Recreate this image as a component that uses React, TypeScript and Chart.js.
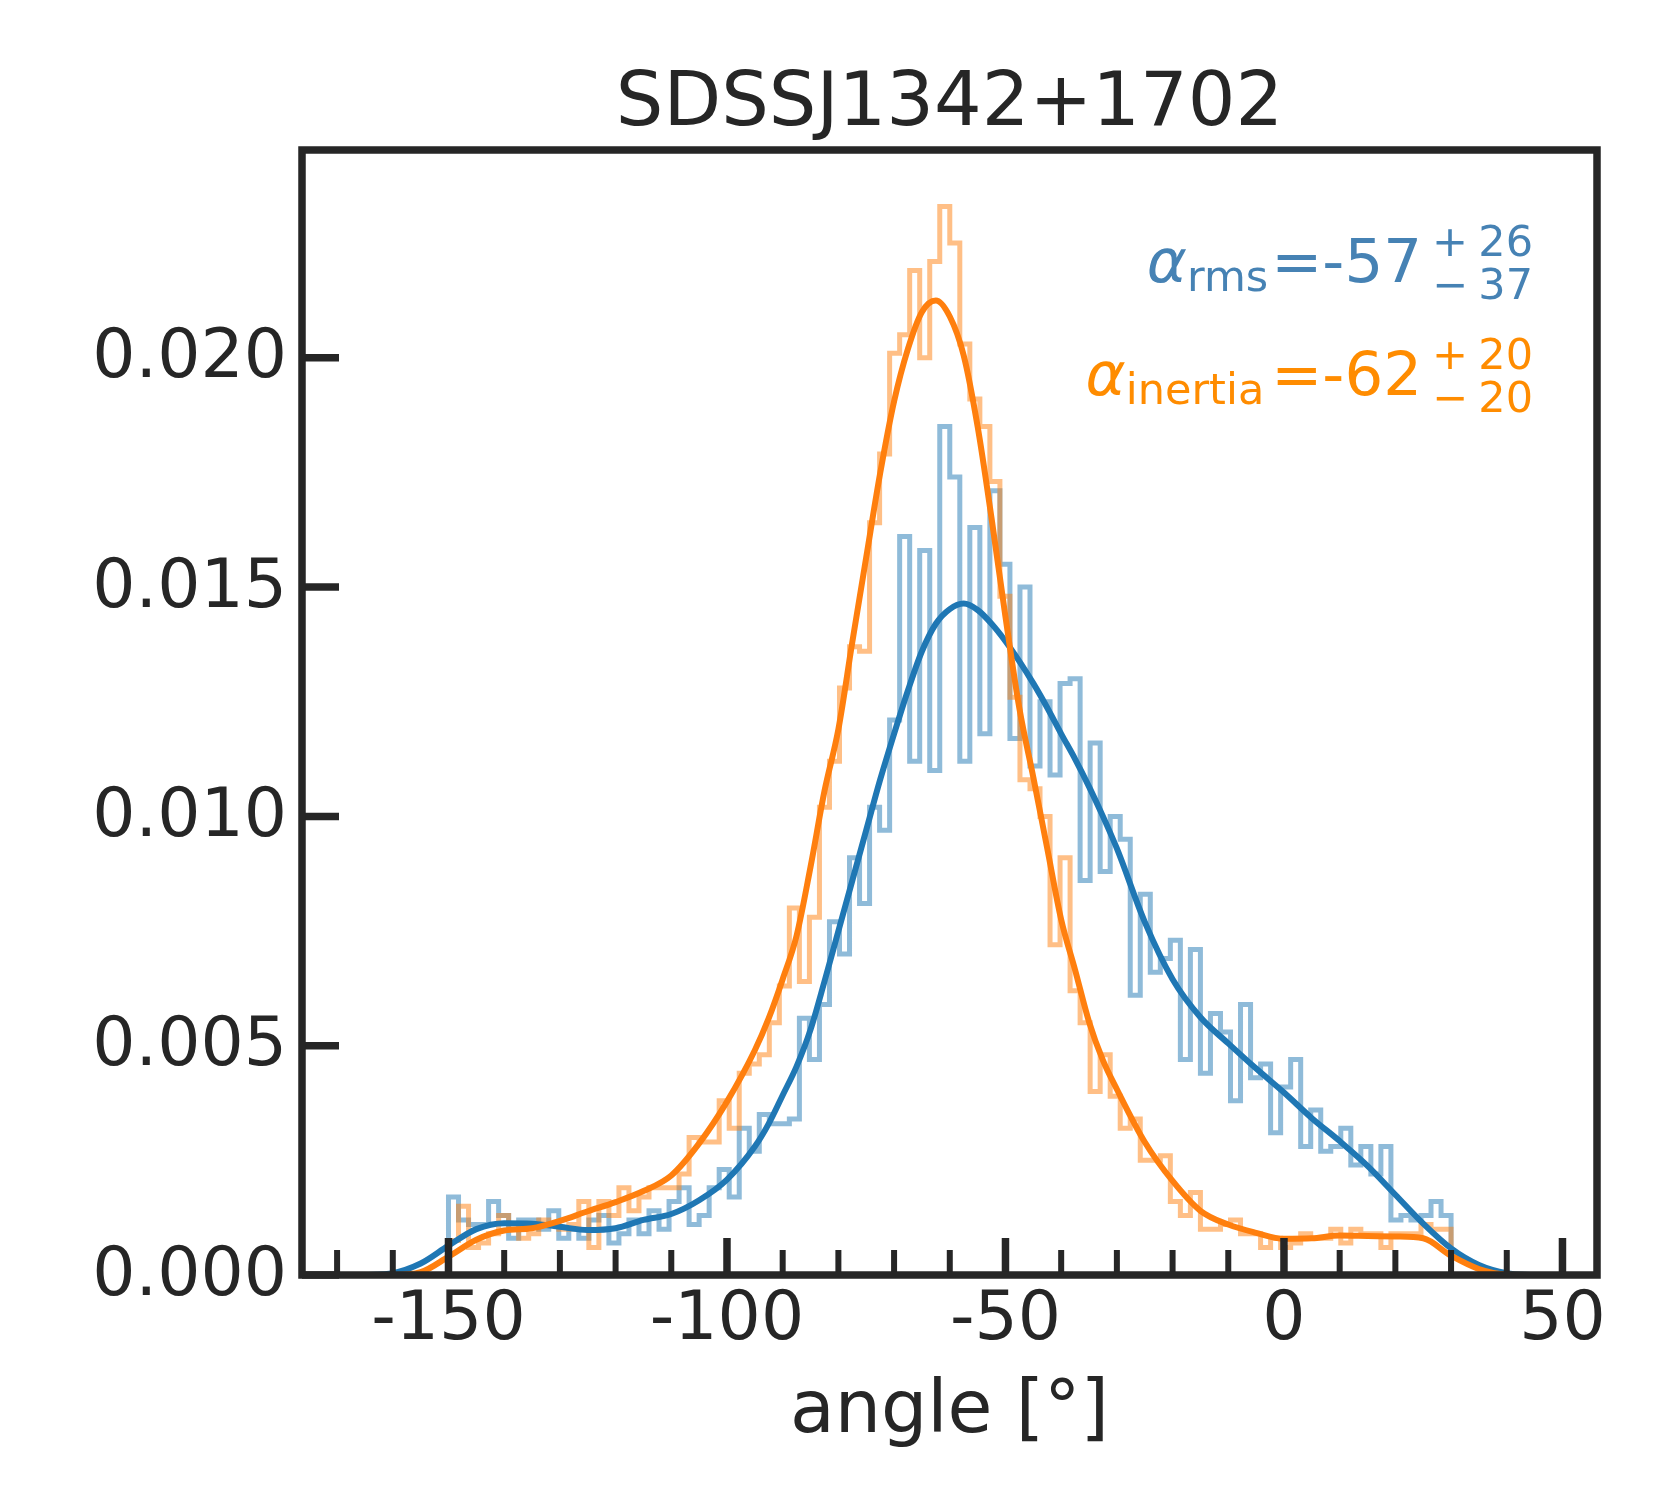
import { useEffect, useRef } from 'react';
import { Chart, registerables } from 'chart.js';

Chart.register(...registerables);

const INK = '#262626';
const FONT = "'DejaVu Sans', 'Liberation Sans', sans-serif";

// histogram: 100 bins of 1.8 deg from -150 to 30
const binStart = -150;
const binWidth = 1.8;

const rmsHist = [
  0.0017, 0.0012, 0.0011, 0.0011, 0.0016, 0.0013, 0.0008, 0.0012, 0.0012, 0.0010,
  0.0014, 0.0008, 0.0010, 0.0008, 0.0012, 0.0013, 0.0007, 0.0009, 0.0012, 0.0009,
  0.0014, 0.0010, 0.0016, 0.0019, 0.0011, 0.0013, 0.0019, 0.0023, 0.0017, 0.0032,
  0.0027, 0.0035, 0.0033, 0.0033, 0.0034, 0.0056, 0.0047, 0.0059, 0.0077, 0.0070,
  0.0091, 0.0081, 0.0102, 0.0097, 0.0121, 0.0161, 0.0112, 0.0158, 0.0110, 0.0185,
  0.0174, 0.0112, 0.0163, 0.0118, 0.0171, 0.0155, 0.0117, 0.0150, 0.0111, 0.0125,
  0.0109, 0.0129, 0.0130, 0.0086, 0.0116, 0.0088, 0.0100, 0.0095, 0.0061, 0.0083,
  0.0066, 0.0069, 0.0073, 0.0047, 0.0071, 0.0044, 0.0057, 0.0053, 0.0038, 0.0059,
  0.0043, 0.0046, 0.0031, 0.0041, 0.0047, 0.0028, 0.0036, 0.0027, 0.0028, 0.0032,
  0.0024, 0.0028, 0.0022, 0.0028, 0.0012, 0.0013, 0.0012, 0.0013, 0.0016, 0.0013,
];

const inertiaHist = [
  0.00075, 0.0015, 0.0006, 0.0007, 0.0009, 0.0013, 0.0010, 0.0008, 0.0009, 0.0012,
  0.0011, 0.0010, 0.0011, 0.0016, 0.0006, 0.0016, 0.0013, 0.0019, 0.0014, 0.0017,
  0.0019, 0.0019, 0.0019, 0.0022, 0.0030, 0.0029, 0.0029, 0.0038, 0.0032, 0.0044,
  0.0046, 0.0048, 0.0055, 0.0063, 0.0080, 0.0064, 0.0078, 0.0102, 0.0112, 0.0128,
  0.0137, 0.0136, 0.0164, 0.0179, 0.0201, 0.0205, 0.0219, 0.0200, 0.0221, 0.0233,
  0.0225, 0.0203, 0.0191, 0.0185, 0.0173, 0.0148, 0.0126, 0.0108, 0.0106, 0.0100,
  0.0072, 0.0091, 0.0062, 0.0055, 0.0040, 0.0048, 0.0039, 0.0032, 0.0034, 0.0025,
  0.0025, 0.0026, 0.0016, 0.0013, 0.0018, 0.0010, 0.0010, 0.0011, 0.0012, 0.0009,
  0.0009, 0.0006, 0.0008, 0.0006, 0.0007, 0.0009, 0.0008, 0.0008, 0.0010, 0.0007,
  0.0010, 0.0009, 0.0009, 0.0006, 0.0009, 0.0009, 0.0009, 0.0011, 0.0010, 0.0010,
];

// KDE curves, sampled at these angles
const kdeAngles = [
  -165, -160, -155, -150, -145, -140, -135, -130, -125, -120, -115, -110, -105, -100,
  -95, -92.5, -90, -87.5, -85, -82.5, -80, -77.5, -75, -72.5, -70, -67.5, -65, -62.5,
  -60, -57.5, -55, -52.5, -50, -47.5, -45, -42.5, -40, -37.5, -35, -32.5, -30,
  -25, -20, -15, -10, -5, 0, 5, 10, 15, 20, 25, 30, 35, 40, 45,
];

const rmsKde = [
  0, 0.00004, 0.00025, 0.00064, 0.001, 0.00113, 0.00112, 0.00105, 0.00098, 0.00102, 0.0012, 0.00133, 0.00163, 0.00208,
  0.0028, 0.0033, 0.00392, 0.00455, 0.00535, 0.0064, 0.0075, 0.0086, 0.0097, 0.0108, 0.0118, 0.01275, 0.0136, 0.0142,
  0.01452, 0.01464, 0.0145, 0.0142, 0.01382, 0.01338, 0.0129, 0.01237, 0.0118, 0.01125, 0.01065, 0.01, 0.0093,
  0.0077, 0.00645, 0.00562, 0.00505, 0.0045, 0.00398, 0.00342, 0.00292, 0.00238, 0.00175, 0.00112, 0.00058, 0.00022, 0.00004, 0,
];

const inertiaKde = [
  0, 0, 0.00006, 0.0004, 0.00077, 0.00097, 0.00102, 0.00118, 0.00139, 0.00159, 0.00183, 0.00217, 0.00287, 0.00378,
  0.0049, 0.0056, 0.00645, 0.0074, 0.0089, 0.01055, 0.0119, 0.0138, 0.01565, 0.01748, 0.01905, 0.0202, 0.021, 0.02125,
  0.0209, 0.02005, 0.0185, 0.0165, 0.01435, 0.01235, 0.01085, 0.0093, 0.00775, 0.00665, 0.00552, 0.00468, 0.00405,
  0.0029, 0.00205, 0.0014, 0.0011, 0.00092, 0.00079, 0.0008, 0.00086, 0.00085, 0.00084, 0.0008, 0.00042, 0.00013, 0.00001, 0,
];

const xTicks = [-150, -100, -50, 0, 50];
const xMinorTicks = [-170, -160, -140, -130, -120, -110, -90, -80, -70, -60, -40, -30, -20, -10, 10, 20, 30, 40];
const yTicks = [0, 0.005, 0.01, 0.015, 0.02];

const annotations = [
  { color: '#4682b4', name: 'rms', value: '-57', plus: '26', minus: '37', baseline: 282, gap: 3 },
  { color: '#ff8c00', name: 'inertia', value: '-62', plus: '20', minus: '20', baseline: 395, gap: 7 },
];

// outline of a step histogram as points for a stepped line
function histPoints(values: number[]) {
  const pts = [{ x: binStart, y: 0 }];
  values.forEach((v, i) => pts.push({ x: binStart + i * binWidth, y: v }));
  pts.push({ x: binStart + values.length * binWidth, y: 0 });
  return pts;
}

const axesDecor = {
  id: 'axesDecor',
  afterDatasetsDraw(chart: any) {
    const { ctx, chartArea: a } = chart;
    const xs = chart.scales.x;
    const ys = chart.scales.y;
    const seg = (x1: number, y1: number, x2: number, y2: number) => {
      ctx.beginPath();
      ctx.moveTo(x1, y1);
      ctx.lineTo(x2, y2);
      ctx.stroke();
    };
    ctx.save();
    ctx.strokeStyle = INK;
    ctx.lineWidth = 6;
    xMinorTicks.forEach(v => {
      const px = xs.getPixelForValue(v);
      seg(px, a.bottom, px, a.bottom - 25);
    });
    ctx.lineWidth = 7.5;
    xTicks.forEach(v => {
      const px = xs.getPixelForValue(v);
      seg(px, a.bottom, px, a.bottom - 37);
    });
    yTicks.forEach(v => {
      const py = ys.getPixelForValue(v);
      seg(a.left, py, a.left + 37, py);
    });
    ctx.lineJoin = 'miter';
    ctx.strokeRect(a.left, a.top, a.right - a.left, a.bottom - a.top);
    ctx.restore();
  },
  afterDraw(chart: any) {
    const { ctx, chartArea: a } = chart;
    const cx = (a.left + a.right) / 2;
    ctx.save();
    ctx.fillStyle = INK;
    ctx.textBaseline = 'alphabetic';
    ctx.textAlign = 'center';
    ctx.font = `75px ${FONT}`;
    ctx.fillText('SDSSJ1342+1702', cx, 125);
    ctx.font = `73px ${FONT}`;
    ctx.fillText('angle [°]', cx, 1432);

    // alpha labels, mathtext-like layout, right aligned
    annotations.forEach(t => {
      const b = t.baseline;
      ctx.fillStyle = t.color;
      ctx.font = `43px ${FONT}`;
      ctx.textAlign = 'right';
      ctx.fillText(t.plus, 1533, b - 26);
      ctx.fillText(t.minus, 1533, b + 16.6);
      ctx.textAlign = 'left';
      ctx.fillText('+', 1432, b - 26);
      ctx.fillText('\u2212', 1432, b + 16.6);
      ctx.textAlign = 'right';
      ctx.font = `61px ${FONT}`;
      const main = '=' + t.value;
      ctx.fillText(main, 1422, b);
      let x = 1422 - ctx.measureText(main).width - t.gap;
      ctx.font = `43px ${FONT}`;
      ctx.fillText(t.name, x, b + 9);
      x -= ctx.measureText(t.name).width;
      ctx.font = `italic 61px ${FONT}`;
      ctx.fillText('\u03b1', x, b);
    });
    ctx.restore();
  },
};

export default function App() {
  const canvasRef = useRef<HTMLCanvasElement>(null);

  useEffect(() => {
    if (!canvasRef.current) return;

    const chart = new Chart(canvasRef.current, {
      type: 'line',
      data: {
        datasets: [
          {
            label: 'inertia kde',
            data: kdeAngles.map((a, i) => ({ x: a, y: inertiaKde[i] })),
            borderColor: '#ff7f0e',
            borderWidth: 6,
            pointRadius: 0,
            cubicInterpolationMode: 'monotone',
            order: 1,
          },
          {
            label: 'rms kde',
            data: kdeAngles.map((a, i) => ({ x: a, y: rmsKde[i] })),
            borderColor: '#1f77b4',
            borderWidth: 6,
            pointRadius: 0,
            cubicInterpolationMode: 'monotone',
            order: 2,
          },
          {
            label: 'inertia',
            data: histPoints(inertiaHist),
            borderColor: 'rgba(255, 127, 14, 0.5)',
            borderWidth: 5,
            borderJoinStyle: 'miter',
            pointRadius: 0,
            stepped: true,
            order: 3,
          },
          {
            label: 'rms',
            data: histPoints(rmsHist),
            borderColor: 'rgba(31, 119, 180, 0.5)',
            borderWidth: 5,
            borderJoinStyle: 'miter',
            pointRadius: 0,
            stepped: true,
            order: 4,
          },
        ],
      },
      options: {
        animation: false,
        responsive: false,
        devicePixelRatio: 1,
        layout: { padding: { top: 150, right: 83, left: 0, bottom: 0 } },
        plugins: {
          legend: { display: false },
          tooltip: { enabled: false },
        },
        scales: {
          x: {
            type: 'linear',
            min: -176.3,
            max: 56.2,
            grid: { display: false, drawTicks: false },
            border: { display: false },
            afterBuildTicks: (scale: any) => {
              scale.ticks = xTicks.map(value => ({ value }));
            },
            afterFit: (scale: any) => {
              scale.height = 225;
            },
            ticks: {
              color: INK,
              font: { family: FONT, size: 68 },
              padding: 6,
              maxRotation: 0,
              autoSkip: false,
              callback: (v: any) => String(v),
            },
          },
          y: {
            type: 'linear',
            min: 0,
            max: 0.02453,
            grid: { display: false, drawTicks: false },
            border: { display: false },
            afterBuildTicks: (scale: any) => {
              scale.ticks = yTicks.map(value => ({ value }));
            },
            afterFit: (scale: any) => {
              scale.width = 302;
            },
            ticks: {
              color: INK,
              font: { family: FONT, size: 68 },
              padding: 15,
              labelOffset: 2,
              autoSkip: false,
              callback: (v: any) => Number(v).toFixed(3),
            },
          },
        },
      },
      plugins: [axesDecor],
    });

    return () => chart.destroy();
  }, []);

  return (
    <div style={{ position: 'absolute', left: 0, top: 0, width: 1680, height: 1500, background: '#fff' }}>
      <canvas ref={canvasRef} width={1680} height={1500} style={{ width: 1680, height: 1500 }} />
    </div>
  );
}
